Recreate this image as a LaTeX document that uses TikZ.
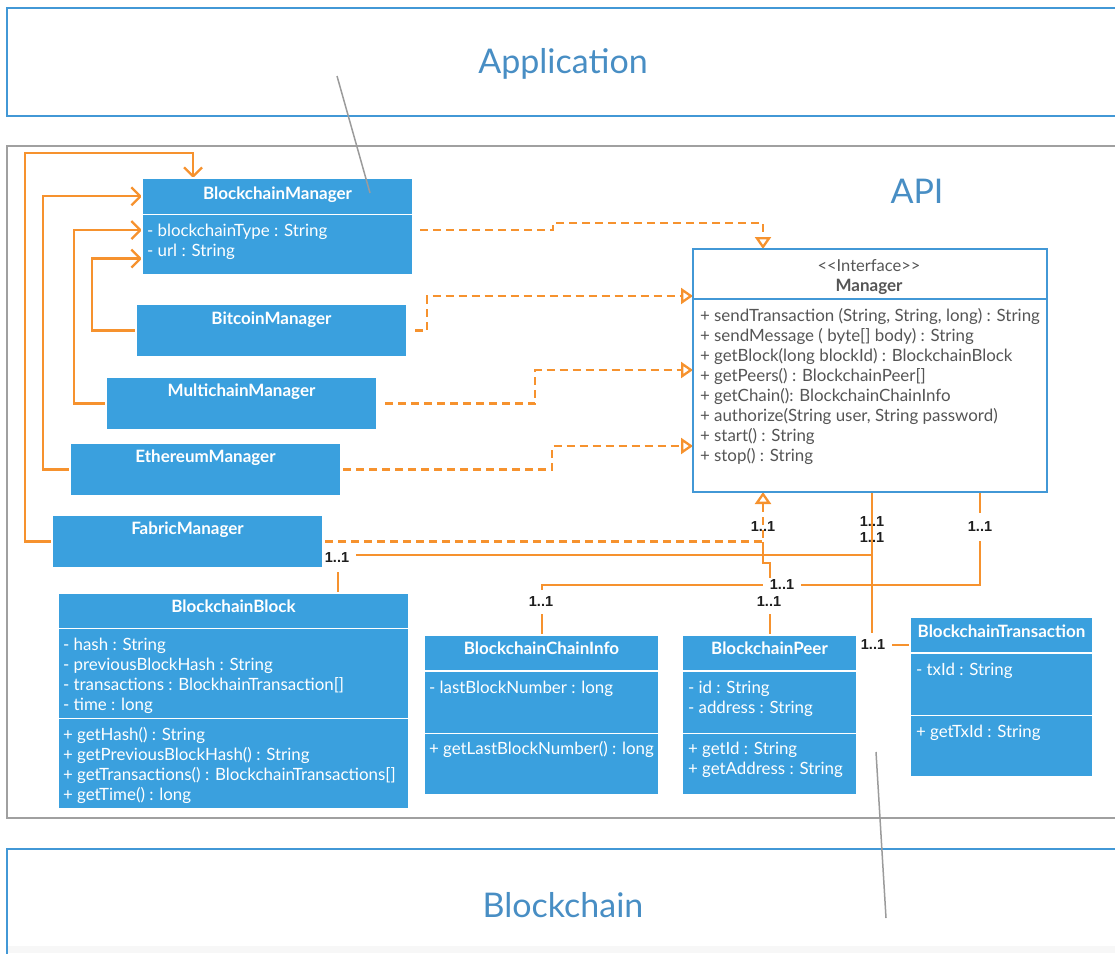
\documentclass[tikz,border=0pt]{standalone}
\usepackage{fontspec}
\setmainfont{Lato}
\newfontfamily\multfamily{Liberation Sans}
\usetikzlibrary{arrows.meta,calc}

\definecolor{clsblue}{RGB}{58,160,222}
\definecolor{panelblue}{RGB}{66,152,214}
\definecolor{titleblue}{RGB}{72,142,196}
\definecolor{panelgray}{RGB}{160,160,160}
\definecolor{orng}{RGB}{246,146,46}
\definecolor{ifgray}{RGB}{85,85,85}
\definecolor{multgray}{RGB}{30,30,30}
\definecolor{notegray}{RGB}{155,155,155}

\newcommand\ttlfont{\fontsize{17}{20}\selectfont\bfseries}
\newcommand\txtfont{\fontsize{16.9}{20}\selectfont}
\newcommand\multfont{\multfamily\fontsize{14.5}{16}\selectfont\bfseries}
\newcommand\panelfont{\fontsize{34}{40}\selectfont}

% one text node per compartment row, 20.1pt apart
\newcommand\textrows[5]{%
  \foreach \row [count=\k] in {#5}{%
    \node[#2] (#1-\k) at (#3,{#4+20.1*(\k-1)}) {\row};}}

\pgfdeclarelayer{back}
\pgfsetlayers{back,main}

\begin{document}
\begin{tikzpicture}[x=1pt,y=-1pt,
  every node/.style={outer sep=0pt},
  cls/.style={fill=clsblue, draw=white, line width=1.2pt, inner sep=0pt, anchor=north west},
  ifbox/.style={fill=white, draw=panelblue, line width=2pt, inner sep=0pt, anchor=north west},
  panel/.style={line width=2pt, inner sep=0pt, anchor=north west, minimum width=1130},
  paneltext/.style={text=titleblue, font=\panelfont, inner sep=0pt},
  ttl/.style={text=white, font=\ttlfont, anchor=base, inner sep=0pt},
  txt/.style={text=white, font=\txtfont, anchor=base west, inner sep=0pt},
  iftxt/.style={text=ifgray, font=\txtfont, anchor=base west, inner sep=0pt},
  gen/.style={draw=orng, line width=2.3pt, -{Straight Barb[length=9pt,width=18pt]}},
  real/.style={draw=orng, line width=2.3pt, dash pattern=on 8pt off 5pt,
    -{Triangle[length=12pt,width=16pt,fill=white]}},
  assoc/.style={draw=orng, line width=2.3pt},
  mult/.style={font=\multfont, text=multgray, inner sep=0.5pt},
  gapfill/.style={fill=white},
  note/.style={draw=notegray, line width=1.5pt}]

\useasboundingbox (0,0) rectangle (1115,953);

% ---------- manager classes ----------
\node[cls, minimum width=271, minimum height=36.5] (bmh) at (142,178) {};
\node[cls, minimum width=271, minimum height=60.5] (bma) at (142,214.5) {};
\node[ttl] (bm-t) at (277.5,199) {BlockchainManager};
\textrows{bm-a}{txt}{147}{236}{{- blockchainType : String},{- url : String}}

\node[cls, minimum width=271, minimum height=53] (btc) at (136,304) {};
\node[ttl] (btc-t) at (271.5,324) {BitcoinManager};
\node[cls, minimum width=271, minimum height=53] (mul) at (106,377) {};
\node[ttl] (mul-t) at (241.5,396) {MultichainManager};
\node[cls, minimum width=271, minimum height=53] (eth) at (70,443) {};
\node[ttl] (eth-t) at (205.5,462) {EthereumManager};
\node[cls, minimum width=271, minimum height=53] (fab) at (52,515) {};
\node[ttl] (fab-t) at (187.5,534) {FabricManager};

% ---------- the Manager interface ----------
\node[ifbox, minimum width=354, minimum height=243] (mgr) at (693,249) {};
\node[ifbox, minimum width=354, minimum height=50] (mgrh) at (693,249) {};
\node[text=ifgray, font=\fontsize{16.5}{19}\selectfont, anchor=base, inner sep=0pt] (mgr-st)
  at (869,271) {<\kern0pt<Interface>\kern0pt>};
\node[text=ifgray, font=\ttlfont, anchor=base, inner sep=0pt] (mgr-t) at (869,291) {Manager};
\textrows{mgr-m}{iftxt}{700}{321}{{+ sendTransaction (String, String, long) : String},
  {+ sendMessage ( byte[] body) : String},
  {+ getBlock(long blockId) : BlockchainBlock},
  {+ getPeers() : BlockchainPeer[]},
  {+ getChain(): BlockchainChainInfo},
  {+ authorize(String user, String password)},
  {+ start() : String},
  {+ stop() : String}}

% ---------- data classes ----------
\node[cls, minimum width=351, minimum height=35.5] (blkh) at (58,593) {};
\node[cls, minimum width=351, minimum height=90] (blka) at (58,628.5) {};
\node[cls, minimum width=351, minimum height=90] (blkm) at (58,718.5) {};
\node[ttl] (blk-t) at (233.5,612) {BlockchainBlock};
\textrows{blk-a}{txt}{63}{650}{{- hash : String},{- previousBlockHash : String},
  {- transactions : BlockhainTransaction[]},{- time : long}}
\textrows{blk-m}{txt}{63}{740}{{+ getHash() : String},{+ getPreviousBlockHash() : String},
  {+ getTransactions() : BlockchainTransactions[]},{+ getTime() : long}}

\node[cls, minimum width=235, minimum height=36] (cih) at (424,635) {};
\node[cls, minimum width=235, minimum height=62.5] (cia) at (424,671) {};
\node[cls, minimum width=235, minimum height=61.5] (cim) at (424,733.5) {};
\node[ttl] (ci-t) at (541.5,654) {BlockchainChainInfo};
\textrows{ci-a}{txt}{429}{693}{{- lastBlockNumber : long}}
\textrows{ci-m}{txt}{429}{754}{{+ getLastBlockNumber() : long}}

\node[cls, minimum width=175, minimum height=36] (peh) at (682,635) {};
\node[cls, minimum width=175, minimum height=62.5] (pea) at (682,671) {};
\node[cls, minimum width=175, minimum height=61.5] (pem) at (682,733.5) {};
\node[ttl] (pe-t) at (769.5,654) {BlockchainPeer};
\textrows{pe-a}{txt}{688}{693}{{- id : String},{- address : String}}
\textrows{pe-m}{txt}{688}{754}{{+ getId : String},{+ getAddress : String}}

\node[cls, minimum width=183, minimum height=36] (trh) at (910,617) {};
\node[cls, minimum width=183, minimum height=62.5] (tra) at (910,653) {};
\node[cls, minimum width=183, minimum height=61.5] (trm) at (910,715.5) {};
\node[ttl] (tr-t) at (1001.5,637) {BlockchainTransaction};
\textrows{tr-a}{txt}{916}{675}{{- txId : String}}
\textrows{tr-m}{txt}{916}{737}{{+ getTxId : String}}

\coordinate (peer-join) at ([xshift=70,yshift=-49.5]mgr.south west);

\begin{pgfonlayer}{back}
  % layers of the system
  \node[panel, draw=panelblue, minimum height=108] (app) at (7,8) {};
  \node[paneltext] (app-t) at (563,64) {Application};
  \node[panel, draw=panelgray, minimum height=672] (api) at (7,146) {};
  \node[paneltext] (api-t) at (917,191) {API};
  \fill[black!3] (8,946) rectangle (1115,953);
  \node[panel, draw=panelblue, minimum height=120] (bc) at (7,849) {};
  \node[paneltext] (bc-t) at (563,905) {Blockchain};

  % associations
  \draw[assoc] ([xshift=280]blkh.north west) -- ++(0,-38) -| ([xshift=179]mgr.south west);
  \draw[assoc] ([xshift=179]mgr.south west) |- ([yshift=-28]trh.north west);
  \draw[assoc] ([xshift=118]cih.north west) -- ++(0,-50) -| ([xshift=287]mgr.south west);
  \draw[assoc] ([xshift=88]peh.north west) -- ++(0,-72) -| (peer-join);

  % generalisation towards BlockchainManager
  \draw[gen] (fab.west) -- ++(-27,0) |- ([xshift=51,yshift=25]bmh.north west)
    -- ([xshift=51]bmh.north west);
  \draw[gen] (eth.west) -- ++(-27,0) |- (bmh.west);
  \draw[gen] (mul.west) -- ++(-32,0) |- ([yshift=-15.5]bma.north west);
  \draw[gen] (btc.west) -- ++(-44,0) |- ([yshift=-44]bma.north west);

  % multiplicities
  \node[mult, gapfill, inner xsep=7pt, inner ysep=9.5pt] (m-blk) at (337,558) {1..1};
  \node[mult] (m-blk-mgr) at (872,522) {1..1};
  \node[mult] (m-tr-mgr) at (872,538) {1..1};
  \node[mult] (m-pe-mgr) at (763,527) {1..1};
  \node[mult, gapfill, inner xsep=2pt, inner ysep=9.5pt] (m-ci-mgr) at (980,527) {1..1};
  \node[mult, gapfill, inner xsep=7pt, inner ysep=2pt] (m-mid) at (782,585) {1..1};
  \node[mult, gapfill, inner xsep=2pt, inner ysep=7.5pt] (m-pe) at (769,602) {1..1};
  \node[mult, gapfill, inner xsep=2pt, inner ysep=7.5pt] (m-ci) at (541,602) {1..1};
  \node[mult, gapfill, inner xsep=7pt, inner ysep=7.5pt] (m-tr) at (873,645) {1..1};

  % realisations of the Manager interface
  \draw[real, shorten <=7pt] ([yshift=-15.5]bma.north east) -- ++(140,0) -- ++(0,-7)
    -| ([xshift=70]mgr.north west);
  \draw[real, shorten <=8pt] (btc.east) -- ++(20,0) |- ([yshift=-47]mgr.north west);
  \draw[real, shorten <=8pt] (mul.east) -- ++(158,0) |- ([yshift=-121]mgr.north west);
  \draw[real, shorten <=2pt] (eth.east) -- ++(211,0) |- ([yshift=-197]mgr.north west);
  \draw[real, shorten <=2pt] (fab.east) -| ([xshift=70]mgr.south west);
\end{pgfonlayer}

% notes
\coordinate (app-note) at (337,76);
\coordinate (bm-note) at (370,193);
\draw[note] (app-note) -- (bm-note);
\coordinate (pe-note) at (876,752);
\coordinate (bc-note) at (886,918);
\draw[note] (pe-note) -- (bc-note);
\end{tikzpicture}
\end{document}
